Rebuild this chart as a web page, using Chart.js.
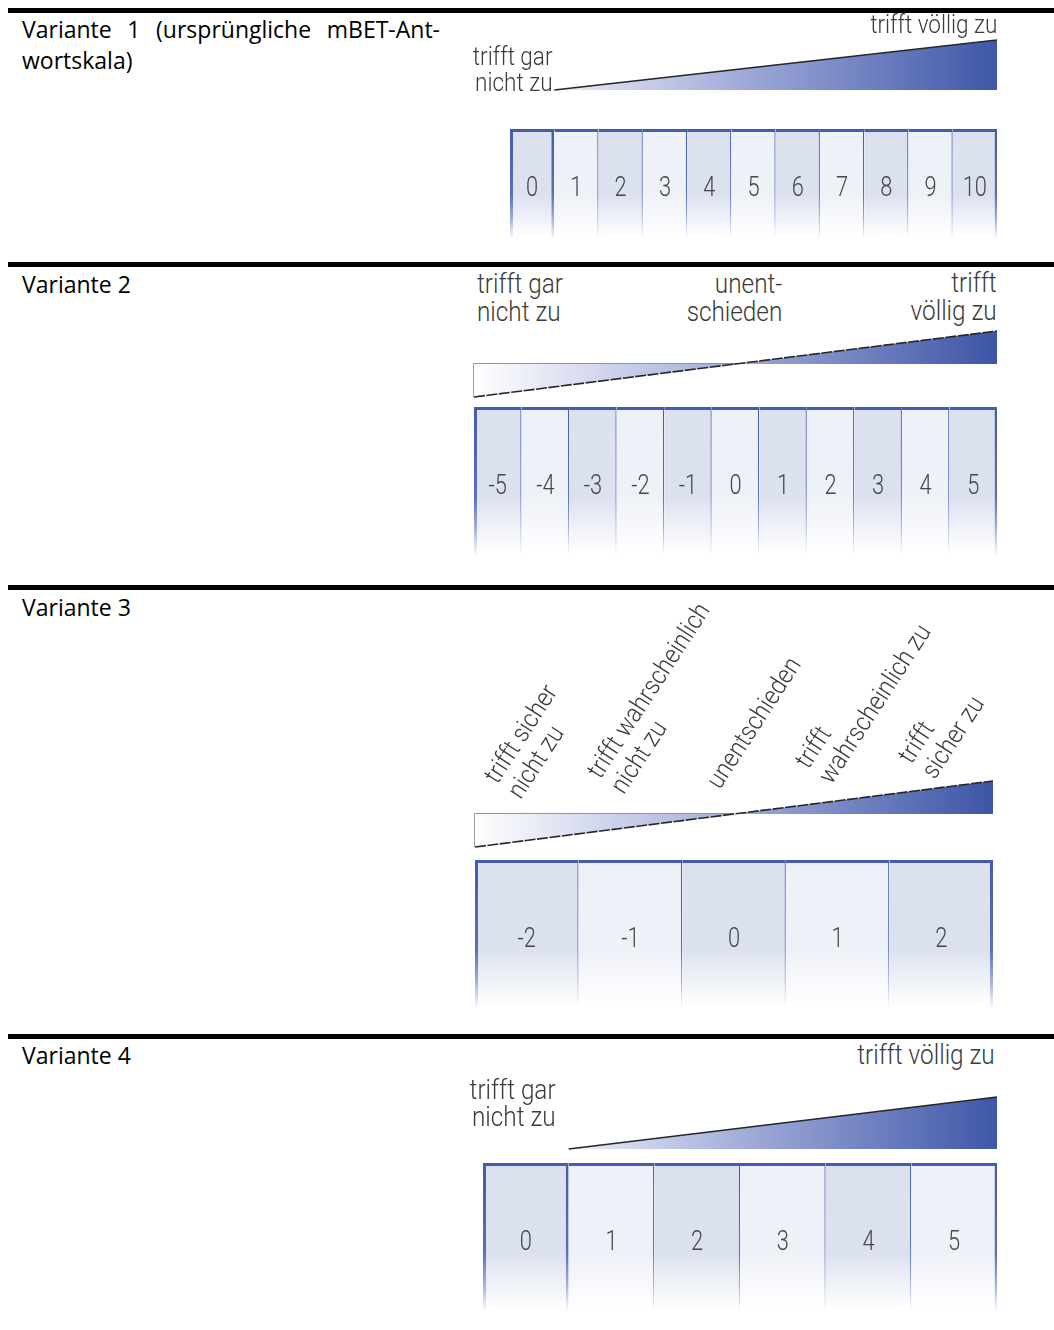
<!DOCTYPE html>
<html lang="de">
<head>
<meta charset="utf-8">
<title>mBET-Antwortskalen</title>
<script src="https://cdn.jsdelivr.net/npm/chart.js"></script>
<style>
  html, body { margin:0; padding:0; background:#fff; }
  #page { position:relative; width:1054px; height:1330px; overflow:hidden; }
  .rule { position:absolute; left:8px; right:0; height:5px; background:#000; }
  .variant { position:absolute; left:22px; font-family:'Open Sans', sans-serif; font-size:23px; line-height:31px; color:#000; }
  .pole { position:absolute; font-family:Roboto, sans-serif; font-weight:300; color:#3a3a3a; white-space:pre; }
  canvas { position:absolute; }
</style>
</head>
<body>
<div id="page"></div>
<script>
// ======== DATEN =========
const v1Values = ['0','1','2','3','4','5','6','7','8','9','10'];
const v2Values = ['-5','-4','-3','-2','-1','0','1','2','3','4','5'];
const v3Values = ['-2','-1','0','1','2'];
const v4Values = ['0','1','2','3','4','5'];

// Keil: x in Skalenwerten, y = Zustimmung (0..1 bzw. -1..1)
const v1WedgeX = [0.5, 10.5];
const v1WedgeY = [0, 1];
const v2WedgeX = [-5.5, 0, 5.5];
const v2WedgeY = [-1, 0, 1];
const v3WedgeX = [-2.5, 0, 2.5];
const v3WedgeY = [-1, 0, 1];
const v4WedgeX = [0.5, 5.5];
const v4WedgeY = [0, 1];

const v1Title = ['Variante 1 (ursprüngliche mBET-Ant-', 'wortskala)'];
const otherTitles = ['Variante 2', 'Variante 3', 'Variante 4'];

const v1Poles = ['trifft gar\nnicht zu', 'trifft völlig zu'];
const v2Poles = ['trifft gar\nnicht zu', 'unent-\nschieden', 'trifft\nvöllig zu'];
const v3Anchors = ['trifft sicher\nnicht zu', 'trifft wahrscheinlich\nnicht zu', 'unentschieden',
                   'trifft\nwahrscheinlich zu', 'trifft\nsicher zu'];
const v4Poles = ['trifft gar\nnicht zu', 'trifft völlig zu'];

// ======== LAYOUT HELPERS ========
const page = document.getElementById('page');
const W = 1054;
const SQUEEZE = 0.9;

function rule(y){
  const d = document.createElement('div'); d.className = 'rule'; d.style.top = y + 'px'; page.appendChild(d);
}
function title(lines, top, justifyFirst){
  lines.forEach((s, i) => {
    const d = document.createElement('div'); d.className = 'variant';
    d.textContent = s; d.style.top = (top + i*31) + 'px';
    if (justifyFirst && i === 0){ d.style.width = '418px'; d.style.textAlign = 'justify'; d.style.textAlignLast = 'justify'; }
    page.appendChild(d);
  });
}
function pole(str, o){
  const d = document.createElement('div'); d.className = 'pole';
  d.textContent = str;
  d.style.fontSize = o.size + 'px';
  d.style.lineHeight = o.lh + 'px';
  d.style.top = o.top + 'px';
  if (o.align === 'right'){
    d.style.right = (W - o.x) + 'px'; d.style.textAlign = 'right'; d.style.transformOrigin = '100% 0';
  } else {
    d.style.left = o.x + 'px'; d.style.transformOrigin = '0 0';
  }
  d.style.transform = `scaleX(${SQUEEZE})`;
  page.appendChild(d);
}
function box(x, y, w, h){
  const c = document.createElement('canvas');
  c.width = w; c.height = h; c.style.left = x + 'px'; c.style.top = y + 'px';
  page.appendChild(c); return c;
}

// ======== ZELLEN (Balken) ========
function cellFill(c){
  const a = c.chart.chartArea;
  const shade = c.dataIndex % 2 === 0 ? '#dce1f0' : '#eff1f8';
  if (!a) return shade;
  const g = c.chart.ctx.createLinearGradient(0, a.top, 0, a.bottom);
  g.addColorStop(0, shade); g.addColorStop(0.58, shade);
  g.addColorStop(0.95, '#ffffff'); g.addColorStop(1, '#ffffff');
  return g;
}
function cellLine(c){
  const a = c.chart.chartArea;
  if (!a) return '#4a62b2';
  const g = c.chart.ctx.createLinearGradient(0, a.top, 0, a.bottom);
  g.addColorStop(0, '#435cae'); g.addColorStop(0.58, '#5a6fb9');
  g.addColorStop(0.78, '#a0acd9'); g.addColorStop(0.97, '#ffffff'); g.addColorStop(1, '#ffffff');
  return g;
}
const cellNumbers = {
  id: 'cellNumbers',
  afterDatasetsDraw(chart){
    const { ctx, chartArea: a } = chart;
    const meta = chart.getDatasetMeta(0);
    ctx.save();
    ctx.fillStyle = '#474747';
    ctx.font = '300 28px Roboto, sans-serif';
    ctx.textAlign = 'center';
    ctx.textBaseline = 'alphabetic';
    meta.data.forEach((bar, i) => {
      ctx.save();
      ctx.translate(bar.x, a.top + a.height*0.5 + 10);
      ctx.scale(0.78, 1);
      ctx.fillText(chart.data.labels[i], 0, 0);
      ctx.restore();
    });
    ctx.restore();
  }
};
function cellsChart(canvas, labels, thickFirst, lastWidth){
  const n = labels.length;
  return new Chart(canvas, {
    type: 'bar',
    data: {
      labels,
      datasets: [{
        data: labels.map(() => 1),
        backgroundColor: cellFill,
        borderColor: cellLine,
        borderWidth: (c) => {
          const i = c.dataIndex;
          return { top: 3, bottom: 0, left: i === 0 ? 3 : 0,
                   right: i === n-1 ? lastWidth : (i === 0 && thickFirst ? 3 : 1.3) };
        },
        borderSkipped: false,
        inflateAmount: 0,
        categoryPercentage: 1,
        barPercentage: 1
      }]
    },
    options: {
      responsive: false, animation: false, events: [],
      layout: { padding: 0 },
      plugins: { legend: { display: false }, tooltip: { enabled: false } },
      scales: {
        x: { display: false, offset: true },
        y: { display: false, min: 0, max: 1 }
      }
    },
    plugins: [cellNumbers]
  });
}

// ======== KEIL (Linie + Fläche) ========
const PAD = 3;
function wedgeFill(xs, bipolar){
  return (c) => {
    const chart = c.chart, a = chart.chartArea;
    if (!a) return '#8e9bd0';
    const x = chart.scales.x;
    const g = chart.ctx.createLinearGradient(x.getPixelForValue(xs[0]), 0, x.getPixelForValue(xs[xs.length-1]), 0);
    if (bipolar){
      g.addColorStop(0, '#ffffff'); g.addColorStop(0.5, '#a1abd9'); g.addColorStop(1, '#3d55a6');
    } else {
      g.addColorStop(0, '#eceef8'); g.addColorStop(0.45, '#9ba6d6'); g.addColorStop(1, '#3f57a8');
    }
    return g;
  };
}
function wedgeChart(canvas, labels, xs, ys){
  const bipolar = Math.min(...ys) < 0;
  const datasets = [{
    data: xs.map((x, i) => ({ x, y: ys[i] })),
    fill: 'origin',
    backgroundColor: wedgeFill(xs, bipolar),
    borderColor: '#262626',
    borderWidth: bipolar ? 1.6 : 1.4,
    borderDash: bipolar ? [11, 1.5] : [],
    pointRadius: 0, tension: 0, clip: false
  }];
  if (bipolar){
    // Rahmen des negativen Teils
    datasets.push({
      data: [{ x: xs[0], y: ys[0] }, { x: xs[0], y: 0 }, { x: xs[1], y: 0 }],
      fill: false, borderColor: '#6f6f6f', borderWidth: 1.3,
      pointRadius: 0, tension: 0, clip: false
    });
  }
  return new Chart(canvas, {
    type: 'line',
    data: { datasets },
    options: {
      responsive: false, animation: false, events: [],
      layout: { padding: PAD },
      plugins: { legend: { display: false }, tooltip: { enabled: false } },
      scales: {
        x: { type: 'linear', display: false,
             min: Number(labels[0]) - 0.5, max: Number(labels[labels.length-1]) + 0.5 },
        y: { display: false, min: bipolar ? -1 : 0, max: 1 }
      }
    }
  });
}
function wedgeBox(x, top, w, bottom){
  return box(x - PAD, top - PAD, w + 2*PAD, bottom - top + 2*PAD);
}

// ======== RENDER ========
rule(8); rule(262); rule(585); rule(1034);
title(v1Title, 14, true);
title([otherTitles[0]], 269);
title([otherTitles[1]], 592);
title([otherTitles[2]], 1040);

// Variante 1
cellsChart(box(510, 129, 487, 114), v1Values, true, 2.5);
wedgeChart(wedgeBox(510, 40, 487, 90), v1Values, v1WedgeX, v1WedgeY);
pole(v1Poles[1], { x: 997, top: 11, size: 25, lh: 27, align: 'right' });
pole(v1Poles[0], { x: 553, top: 44, size: 25, lh: 26, align: 'right' });

// Variante 2
cellsChart(box(474, 407, 523, 154), v2Values, false, 2.5);
wedgeChart(wedgeBox(474, 331, 523, 397), v2Values, v2WedgeX, v2WedgeY);
pole(v2Poles[0], { x: 477, top: 270, size: 27, lh: 28, align: 'left' });
pole(v2Poles[1], { x: 782, top: 270, size: 27, lh: 28, align: 'right' });
pole(v2Poles[2], { x: 997, top: 269, size: 27, lh: 28, align: 'right' });

// Variante 3
const c3 = cellsChart(box(475, 860, 518, 154), v3Values, false, 3);
wedgeChart(wedgeBox(475, 781, 518, 847), v3Values, v3WedgeX, v3WedgeY);
v3Anchors.forEach((s, i) => {
  const lines = s.split('\n').length;
  const cx = 475 + c3.scales.x.getPixelForValue(i);
  const d = document.createElement('div'); d.className = 'pole';
  d.textContent = s;
  d.style.fontSize = '26px'; d.style.lineHeight = '28px';
  d.style.left = (cx - 2 - (lines === 1 ? 8 : 0)) + 'px';
  d.style.top = (803 - 5*i - lines*28) + 'px';
  d.style.transformOrigin = '0 100%';
  d.style.transform = `rotate(-57deg) scaleX(${SQUEEZE})`;
  page.appendChild(d);
});

// Variante 4
cellsChart(box(483, 1163, 514, 154), v4Values, true, 2.5);
wedgeChart(wedgeBox(483, 1097, 514, 1149), v4Values, v4WedgeX, v4WedgeY);
pole(v4Poles[1], { x: 995, top: 1042, size: 27, lh: 27, align: 'right' });
pole(v4Poles[0], { x: 556, top: 1077, size: 27, lh: 27, align: 'right' });
</script>
</body>
</html>
